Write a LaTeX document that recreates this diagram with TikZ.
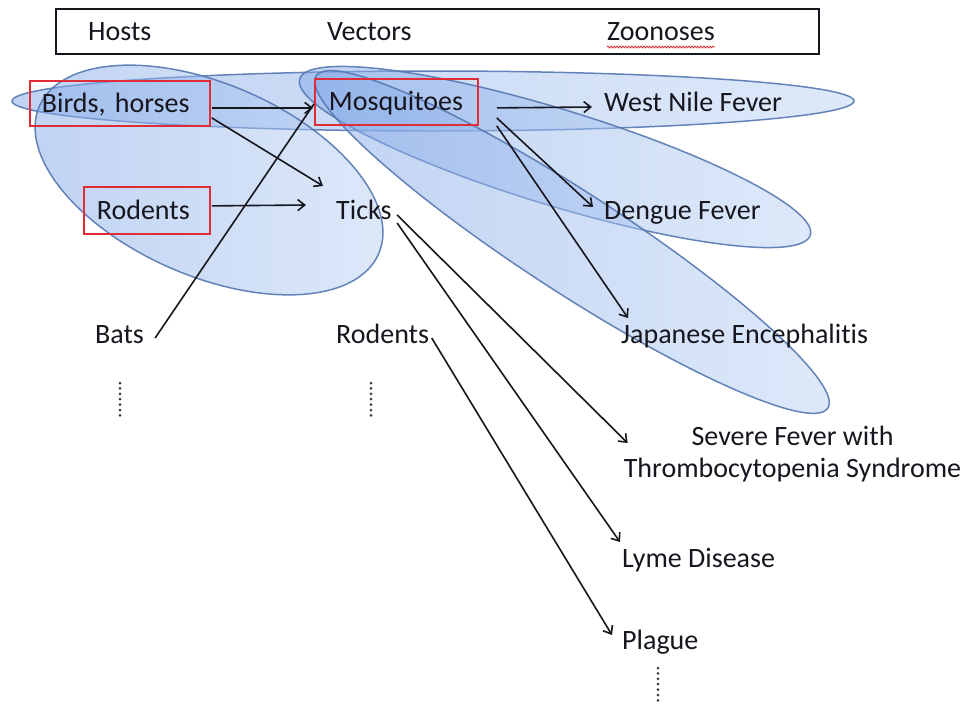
\documentclass[tikz,border=0pt]{standalone}
\usepackage{fontspec}
\setmainfont{Carlito}[Ligatures=NoCommon]
\usetikzlibrary{arrows.meta,decorations.pathmorphing}
\newcommand\lbf{\fontsize{28}{32}\selectfont}
\definecolor{elldark}{RGB}{130,168,232}
\definecolor{elllight}{RGB}{190,212,246}
\definecolor{ellline}{RGB}{85,120,178}
\definecolor{boxred}{RGB}{222,45,55}
\definecolor{txtc}{RGB}{22,22,30}
\begin{document}
\begin{tikzpicture}[x=1pt,y=-1pt,
  zone/.style={left color=elldark, right color=elllight, fill opacity=0.5, draw=ellline, draw opacity=0.9, line width=1.5pt},
  txt/.style={font=\lbf, text=txtc, inner sep=0pt, anchor=base west},
  hostbox/.style={draw=boxred, line width=1.8pt, font=\lbf, text=txtc, text height=22pt, text depth=4pt, inner ysep=0pt, align=left, anchor=north west},
  link/.style={draw=txtc, line width=1.6pt, -{Straight Barb[length=7pt,width=11pt]}},
  bareline/.style={draw=txtc, line width=1.6pt},
  ellipsisdots/.style={draw=txtc!85, line width=3pt, line cap=round, dash pattern=on 0pt off 5.4pt}
]
\fill[white] (0,0) rectangle (965,704);
\useasboundingbox (0,0) rectangle (965,704);

% header
\node[draw=txtc, line width=1.8pt, minimum width=763pt, minimum height=45pt, anchor=north west, inner sep=0pt] (header) at (55,8) {};
\node[txt] (hosts) at (88,40) {Hosts};
\node[txt] (vectors) at (327,40) {Vectors};
\node[txt] (zoo) at (607,40) {Zoonoses};
\draw[boxred, line width=0.8pt, decorate, decoration={snake, amplitude=0.9pt, segment length=3pt}] ([shift={(0,7)}]zoo.base west) -- ([shift={(0,7)}]zoo.base east);

% zones
\path[zone] (433,101) ellipse [x radius=421, y radius=30];
\path[zone, rotate around={-23.5:(209,180)}] (209,180) ellipse [x radius=185, y radius=96];
\path[zone, rotate around={-17:(555,157)}] (555,157) ellipse [x radius=267, y radius=48];
\path[zone, rotate around={-33:(572,242)}] (572,242) ellipse [x radius=305, y radius=50];

% boxed nodes
\node[hostbox, text width=156pt, inner xsep=12pt, minimum height=45pt] (birds) at (29,80) {Birds, horses};
\node[hostbox, text width=135pt, inner xsep=14pt, minimum height=46pt] (mosq) at (314,78) {Mosquitoes};
\node[hostbox, text width=100pt, inner xsep=13pt, minimum height=47pt] (rodh) at (83,186) {Rodents};

% text nodes
\node[txt] (ticks) at (336,219) {Ticks};
\node[txt] (wnf) at (604,111) {West Nile Fever};
\node[txt] (dengue) at (604,219) {Dengue Fever};
\node[txt] (bats) at (95,343) {Bats};
\node[txt] (rodv) at (336,343) {Rodents};
\node[txt] (je) at (621,343) {Japanese Encephalitis};
\node[font=\lbf, text=txtc, inner sep=0pt, align=center, anchor=north] (sfts) at (792.5,426) {Severe Fever with\\Thrombocytopenia Syndrome};
\node[txt] (lyme) at (622,567) {Lyme Disease};
\node[txt] (plague) at (622,649) {Plague};

% connectors
\draw[link] ([shift={(1,4.5)}]birds.east) -- ([shift={(-1,6)}]mosq.west);
\draw[link] ([shift={(1,14.5)}]birds.east) -- ([shift={(-13,-33)}]ticks.base west);
\draw[link] ([shift={(1,-4.5)}]rodh.east) -- ([shift={(-30,-14)}]ticks.base west);
\draw[bareline] ([shift={(11,-5)}]bats.base east) -- ([shift={(0,2)}]mosq.west);
\draw[link] ([shift={(18,6)}]mosq.east) -- ([shift={(-12,-4)}]wnf.base west);
\draw[link] ([shift={(18,16)}]mosq.east) -- ([shift={(-11,-12)}]dengue.base west);
\draw[link] ([shift={(18,24)}]mosq.east) -- ([shift={(7,-25)}]je.base west);
\draw[link] ([shift={(5.4,-4)}]ticks.base east) -- ([shift={(4,17)}]sfts.north west);
\draw[link] ([shift={(5.4,4)}]ticks.base east) -- ([shift={(-2,-25)}]lyme.base west);
\draw[link] ([shift={(2.5,-5)}]rodv.base east) -- ([shift={(-10,-14)}]plague.base west);

% continuation dots
\draw[ellipsisdots] (120,383) -- (120,416);
\draw[ellipsisdots] (371,383) -- (371,416);
\draw[ellipsisdots] (658,668) -- (658,701);
\end{tikzpicture}
\end{document}
